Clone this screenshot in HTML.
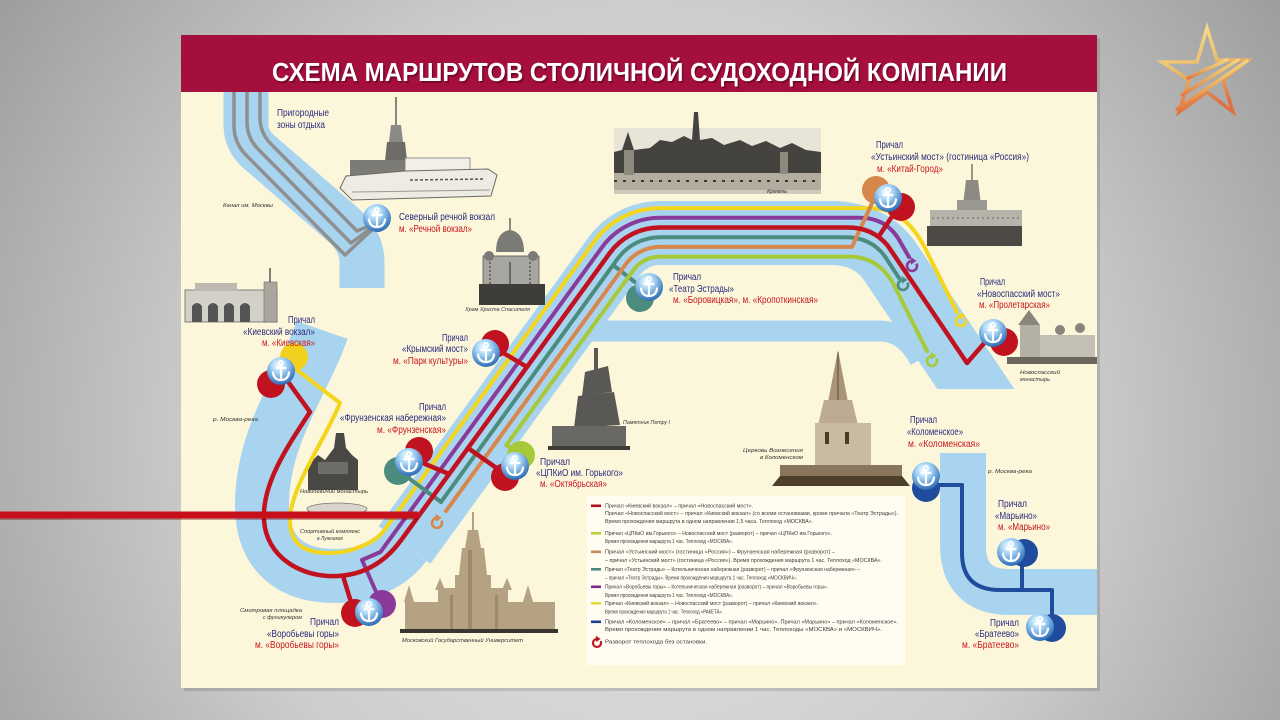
<!DOCTYPE html>
<html><head><meta charset="utf-8">
<style>
html,body{margin:0;padding:0;width:1280px;height:720px;overflow:hidden;background:#c8c8c8}
svg{display:block}
.n{font-family:"Liberation Sans",sans-serif;font-size:10px;fill:#2b2a7c}
.r{font-family:"Liberation Sans",sans-serif;font-size:10px;fill:#c8161d}
.i{font-family:"Liberation Sans",sans-serif;font-size:5.5px;font-style:italic;fill:#333}
.lg{font-family:"Liberation Sans",sans-serif;font-size:5.4px;fill:#3a3a3a}
</style></head><body>
<svg width="1280" height="720" viewBox="0 0 1280 720" xmlns="http://www.w3.org/2000/svg">
<defs>
<radialGradient id="bg" cx="640" cy="430" r="780" gradientUnits="userSpaceOnUse">
<stop offset="0" stop-color="#e6e6e6"/><stop offset="0.55" stop-color="#cdcdcd"/><stop offset="1" stop-color="#9c9c9c"/></radialGradient>
<radialGradient id="ag" cx="0.42" cy="0.3" r="0.75"><stop offset="0" stop-color="#ffffff"/><stop offset="0.35" stop-color="#a8d6f7"/><stop offset="1" stop-color="#1e5fae"/></radialGradient>
<linearGradient id="sg" x1="0" y1="0" x2="0.3" y2="1"><stop offset="0" stop-color="#f8e39a"/><stop offset="0.5" stop-color="#eebf68"/><stop offset="1" stop-color="#e0703e"/></linearGradient>
<clipPath id="cl"><rect x="0" y="0" width="1280" height="389"/></clipPath>
<g id="anc">
 <circle r="14" fill="url(#ag)"/>
 <g stroke="#fff" stroke-width="2.2" fill="none" stroke-linecap="round">
  <circle cy="-8" r="2.2" stroke-width="1.6"/>
  <line x1="0" y1="-5.5" x2="0" y2="8.5"/>
  <line x1="-4.5" y1="-3" x2="4.5" y2="-3"/>
  <path d="M-8 1.5 Q-7 9 0 9 Q7 9 8 1.5"/>
 </g>
</g>
<g id="turn"><path d="M4.4 -2.4 A5 5 0 1 1 0.5 -5" fill="none" stroke="currentColor" stroke-width="2.6"/><path d="M-1.5 -9 L4.5 -5.2 L-1 -1.2 Z" fill="currentColor"/></g>
</defs>

<rect width="1280" height="720" fill="url(#bg)"/>
<rect x="184" y="38" width="916" height="653" fill="#000" opacity="0.12"/>
<rect x="181" y="35" width="916" height="653" fill="#fcf7db"/>
<rect x="181" y="35" width="916" height="57" fill="#a40f3d"/>
<text x="641" y="83" text-anchor="middle" textLength="735" lengthAdjust="spacingAndGlyphs" font-family="Liberation Sans, sans-serif" font-weight="bold" font-size="26" fill="#4a0018" opacity="0.5">СХЕМА МАРШРУТОВ СТОЛИЧНОЙ СУДОХОДНОЙ КОМПАНИИ</text>
<text x="639.5" y="81" text-anchor="middle" textLength="735" lengthAdjust="spacingAndGlyphs" font-family="Liberation Sans, sans-serif" font-weight="bold" font-size="26" fill="#ffffff">СХЕМА МАРШРУТОВ СТОЛИЧНОЙ СУДОХОДНОЙ КОМПАНИИ</text>

<!-- rivers -->
<g fill="none" stroke="#a9d4ef" stroke-linecap="butt" stroke-linejoin="round">
 <path d="M246 92 L246 125 Q246 140 258 151 L340 222 Q362 240 362 262 L362 288" stroke-width="45"/>
 <path d="M322 330 C303 385 262 435 262 505 C262 555 292 576 335 576 C368 576 392 562 404.5 545" stroke-width="54"/>
 <path d="M404.5 545 L614.3 256.3 A56.5 56.5 0 0 1 660 233 L840 233" stroke-width="64"/>
 <path d="M590 331 L880 331 Q905 331 920 360" stroke-width="21"/>
 <path d="M963 453 L963 545 Q963 592 1010 592 L1097 592" stroke-width="46"/>
</g>
<g clip-path="url(#cl)"><path d="M830 233 Q871 233 891 263 L990 410" fill="none" stroke="#a9d4ef" stroke-width="64"/></g>

<!-- images -->
<g>
<line x1="396" y1="97" x2="396" y2="140" stroke="#555" stroke-width="1.4"/>
<polygon points="391,125 401,125 403,142 389,142" fill="#8a8a86"/>
<polygon points="387,142 405,142 408,170 384,170" fill="#6e6c68"/>
<rect x="350" y="160" width="55" height="22" fill="#7d7b76"/>
<rect x="405" y="158" width="65" height="14" fill="#f2efe8" stroke="#777" stroke-width="0.8"/>
<polygon points="340,188 346,176 405,171 488,169 497,175 491,196 352,200" fill="#eeebe3" stroke="#6a6a66" stroke-width="1"/>
<line x1="410" y1="180" x2="485" y2="179" stroke="#555" stroke-width="1.5" stroke-dasharray="3 2"/>
<line x1="352" y1="192" x2="490" y2="190" stroke="#999" stroke-width="1"/>
</g>
<g>
<rect x="614" y="128" width="207" height="66" fill="#e8e4d8"/>
<polygon points="614,194 614,152 622,150 628,132 634,150 650,148 660,140 672,142 684,136 692,140 694,112 698,112 700,140 712,138 724,145 740,140 752,146 766,141 780,148 792,143 806,150 821,152 821,194" fill="#454340"/>
<rect x="614" y="173" width="207" height="18" fill="#b3ad9f"/>
<line x1="614" y1="181" x2="821" y2="181" stroke="#3c3a36" stroke-width="2" stroke-dasharray="3 6"/>
<rect x="624" y="150" width="10" height="25" fill="#8e897d"/>
<rect x="780" y="152" width="8" height="22" fill="#8e897d"/>
<rect x="614" y="190" width="207" height="4" fill="#cfcabc"/>
</g>
<g>
<line x1="510" y1="218" x2="510" y2="232" stroke="#444" stroke-width="1.2"/>
<path d="M496 252 Q496 232 510 230 Q524 232 524 252 Z" fill="#7a7a76"/>
<rect x="483" y="256" width="56" height="32" fill="#a8a6a0" stroke="#555" stroke-width="0.8"/>
<circle cx="489" cy="256" r="5" fill="#7a7a76"/><circle cx="533" cy="256" r="5" fill="#7a7a76"/>
<line x1="490" y1="262" x2="490" y2="286" stroke="#555" stroke-width="1.5" stroke-dasharray="2 2"/>
<line x1="510" y1="262" x2="510" y2="286" stroke="#555" stroke-width="1.5"/>
<line x1="530" y1="262" x2="530" y2="286" stroke="#555" stroke-width="1.5" stroke-dasharray="2 2"/>
<rect x="479" y="284" width="66" height="21" fill="#3e3d3a"/>
</g>
<g>
<rect x="185" y="290" width="92" height="32" fill="#d3d0c8" stroke="#666" stroke-width="0.8"/>
<rect x="195" y="283" width="42" height="8" fill="#bdb9b0"/>
<path d="M192 322 L192 306 Q197 300 202 306 L202 322 Z M208 322 L208 306 Q213 300 218 306 L218 322 Z M224 322 L224 306 Q229 300 234 306 L234 322 Z M240 322 L240 306 Q245 300 250 306 L250 322 Z" fill="#555"/>
<rect x="264" y="282" width="13" height="40" fill="#aaa69e" stroke="#666" stroke-width="0.6"/>
<line x1="270" y1="268" x2="270" y2="282" stroke="#555" stroke-width="1.5"/>
</g>
<g>
<polygon points="308,490 308,465 318,455 325,460 334,448 336,433 344,433 346,448 352,455 358,460 358,490" fill="#4a4844"/>
<rect x="318" y="462" width="30" height="12" fill="#6f6d68"/>
<ellipse cx="337" cy="509" rx="30" ry="6" fill="#d8d5cc" stroke="#777" stroke-width="0.8"/>
</g>
<g fill="#b4a283">
<rect x="472" y="512" width="2" height="20"/>
<polygon points="468,530 478,530 481,548 465,548"/>
<polygon points="462,548 484,548 487,575 459,575"/>
<rect x="455" y="575" width="36" height="57"/>
<rect x="438" y="588" width="70" height="44"/>
<rect x="405" y="602" width="150" height="30"/>
<polygon points="404,602 409,585 414,602"/>
<polygon points="523,602 528,585 533,602"/>
<polygon points="435,590 440,578 445,590"/>
<polygon points="502,590 507,578 512,590"/>
</g>
<g fill="#9c8a6a"><rect x="468" y="550" width="4" height="80"/><rect x="450" y="595" width="3" height="35"/><rect x="495" y="595" width="3" height="35"/></g>
<rect x="400" y="629" width="158" height="4" fill="#3a3530"/>
<g fill="#5a5855">
<rect x="594" y="348" width="4" height="35"/>
<polygon points="585,372 608,366 612,392 582,396"/>
<polygon points="578,396 614,392 620,425 574,428"/>
<rect x="552" y="426" width="74" height="22" fill="#6a6864"/>
<rect x="548" y="446" width="82" height="4" fill="#3e3c39"/>
</g>
<g>
<polygon points="838,350 848,402 828,402" fill="#a99478"/>
<line x1="838" y1="352" x2="838" y2="400" stroke="#5a4a38" stroke-width="1"/>
<polygon points="824,400 852,400 858,425 818,425" fill="#bcab92"/>
<rect x="815" y="423" width="56" height="45" fill="#c9baa2"/>
<rect x="825" y="432" width="4" height="12" fill="#4a3a2a"/><rect x="845" y="432" width="4" height="12" fill="#4a3a2a"/>
<rect x="780" y="465" width="122" height="14" fill="#8a765c"/>
<polygon points="772,486 780,476 902,476 910,486" fill="#4e3e2c"/>
</g>
<g>
<line x1="972" y1="164" x2="972" y2="180" stroke="#555" stroke-width="1.2"/>
<polygon points="966,180 978,180 981,205 963,205" fill="#8c8983"/>
<rect x="957" y="200" width="30" height="30" fill="#9b9891"/>
<rect x="930" y="210" width="92" height="20" fill="#b6b3ab"/>
<line x1="932" y1="218" x2="1020" y2="218" stroke="#666" stroke-width="1" stroke-dasharray="2 3"/>
<rect x="927" y="226" width="95" height="20" fill="#4d4944"/>
</g>
<g>
<polygon points="1018,325 1029,310 1040,325" fill="#8a857c"/>
<rect x="1020" y="325" width="20" height="35" fill="#b5b0a5"/>
<rect x="1040" y="335" width="55" height="25" fill="#c4bfb3"/>
<circle cx="1060" cy="330" r="5" fill="#8a857c"/><circle cx="1080" cy="328" r="5" fill="#8a857c"/>
<rect x="1007" y="357" width="90" height="7" fill="#6b665d"/>
</g>

<!-- canal gray lines -->
<g fill="none" stroke="#8f8f8f" stroke-width="3.5" stroke-linejoin="round">
 <path d="M234 92 L234 126 Q234 144 248 157 L345 255 L374 228"/>
 <path d="M247 92 L247 122 Q247 139 260 151 L351 243 L374 226"/>
 <path d="M260 92 L260 118 Q260 134 273 146 L357 231 L374 224"/>
</g>

<!-- route lines -->
<g fill="none" stroke-width="4" stroke-linejoin="round" stroke-linecap="round">
 <path stroke="#f3d51c" d="M297 370 L340 403 C325 440 290 488 290 520 C290 545 305 553 330 553 C352 553 376 542 384.5 530 L594.1 241.6 A81.4 81.4 0 0 1 660 208.1 L870 208.1 Q905 208 925 248 L957 312"/>
 <path stroke="#8a3a98" d="M381 603 L362 560 L380.5 552 L602 247.3 A71.7 71.7 0 0 1 660 217.8 L860 217.8 Q885 218 898 238 L909 257"/>
 <path stroke="#4c8c7e" d="M399 471 L441 502 L617.7 258.7 A52.3 52.3 0 0 1 660 237.2 L845 237.2 Q872 237 886 258 L899 278"/>
 <path stroke="#4c8c7e" d="M613 265 L645 290"/>
 <path stroke="#d8874c" d="M446 511 L625.5 264.5 A42.6 42.6 0 0 1 660 246.9 L852 246.9 L873 201"/>
 <path stroke="#a6c93a" d="M520 455 L506.4 445 L633.4 270.2 A32.9 32.9 0 0 1 660 256.6 L850 256.6 Q880 257 895 287 L927 351"/>
 <path stroke="#c1121f" stroke-width="4.5" d="M281 372 L310 412 C285 450 262 485 264 520 C266 556 300 578 338 576 Q376.5 574 401.2 540 L609.8 253 A62 62 0 0 1 660 227.5 L848 227.5 Q873 227.5 888 246 L967 363 L993 333"/>
 <path stroke="#c1121f" stroke-width="4.5" d="M495 348 L527 367 M418 461 L449 474 M505 474 L468 448 M343 576 L354 612 M879 236 L899 206"/>
 <path stroke="#1f4c9c" d="M926 485 L962 485 L962 553 Q962 590 1000 590 L1052 590 L1052 627 M1022 590 L1022 553"/>
</g>
<use href="#turn" x="961" y="321" style="color:#f3d51c"/>
<use href="#turn" x="912" y="266" style="color:#8a3a98"/>
<use href="#turn" x="903" y="285" style="color:#4c8c7e"/>
<use href="#turn" x="932" y="361" style="color:#a6c93a"/>
<use href="#turn" x="437" y="523" style="color:#d8874c"/>

<!-- anchor backing circles -->
<circle cx="294" cy="357" r="14" fill="#f0d21e"/>
<circle cx="271" cy="384" r="14" fill="#c1121f"/>
<circle cx="495" cy="344" r="14" fill="#c1121f"/>
<circle cx="419" cy="451" r="14" fill="#c1121f"/>
<circle cx="398" cy="471" r="14" fill="#4c8c7e"/>
<circle cx="521" cy="455" r="14" fill="#a6c93a"/>
<circle cx="505" cy="477" r="14" fill="#c1121f"/>
<circle cx="640" cy="298" r="14" fill="#4c8c7e"/>
<circle cx="355" cy="613" r="14" fill="#c1121f"/>
<circle cx="382" cy="604" r="14" fill="#8a3a98"/>
<circle cx="876" cy="190" r="14" fill="#d8874c"/>
<circle cx="901" cy="207" r="14" fill="#c1121f"/>
<circle cx="1004" cy="342" r="14" fill="#c1121f"/>
<circle cx="926" cy="488" r="14" fill="#1f4c9c"/>
<circle cx="1024" cy="553" r="14" fill="#1f4c9c"/>
<circle cx="1052" cy="628" r="14" fill="#1f4c9c"/>

<use href="#anc" x="377" y="218"/>
<use href="#anc" x="281" y="371"/>
<use href="#anc" x="486" y="353"/>
<use href="#anc" x="409" y="462"/>
<use href="#anc" x="515" y="466"/>
<use href="#anc" x="649" y="287"/>
<use href="#anc" x="369" y="612"/>
<use href="#anc" x="888" y="198"/>
<use href="#anc" x="993" y="333"/>
<use href="#anc" x="926" y="476"/>
<use href="#anc" x="1011" y="552"/>
<use href="#anc" x="1040" y="627"/>

<!-- labels -->
<text class="n" x="277" y="116" textLength="52" lengthAdjust="spacingAndGlyphs" font-size="9.5">Пригородные</text>
<text class="n" x="277" y="128" textLength="48" lengthAdjust="spacingAndGlyphs" font-size="9.5">зоны отдыха</text>
<text class="i" x="223" y="207" textLength="50" lengthAdjust="spacingAndGlyphs">Канал им. Москвы</text>
<text class="n" x="399" y="220" textLength="96" lengthAdjust="spacingAndGlyphs">Северный речной вокзал</text>
<text class="r" x="399" y="232" textLength="73" lengthAdjust="spacingAndGlyphs">м. «Речной вокзал»</text>

<text class="n" x="288" y="323" textLength="27" lengthAdjust="spacingAndGlyphs">Причал</text>
<text class="n" x="243" y="335" textLength="72" lengthAdjust="spacingAndGlyphs">«Киевский вокзал»</text>
<text class="r" x="262" y="346" textLength="53" lengthAdjust="spacingAndGlyphs">м. «Киевская»</text>

<text class="i" x="465" y="311" textLength="65" lengthAdjust="spacingAndGlyphs">Храм Христа Спасителя</text>

<text class="n" x="442" y="341" textLength="26" lengthAdjust="spacingAndGlyphs">Причал</text>
<text class="n" x="402" y="352" textLength="66" lengthAdjust="spacingAndGlyphs">«Крымский мост»</text>
<text class="r" x="393" y="364" textLength="75" lengthAdjust="spacingAndGlyphs">м. «Парк культуры»</text>

<text class="i" x="213" y="421" textLength="45" lengthAdjust="spacingAndGlyphs">р. Москва-река</text>

<text class="n" x="419" y="410" textLength="27" lengthAdjust="spacingAndGlyphs">Причал</text>
<text class="n" x="340" y="421" textLength="106" lengthAdjust="spacingAndGlyphs">«Фрунзенская набережная»</text>
<text class="r" x="377" y="433" textLength="69" lengthAdjust="spacingAndGlyphs">м. «Фрунзенская»</text>

<text class="i" x="300" y="493" textLength="68" lengthAdjust="spacingAndGlyphs">Новодевичий монастырь</text>
<text class="i" x="300" y="533" textLength="60" lengthAdjust="spacingAndGlyphs">Спортивный комплекс</text>
<text class="i" x="317" y="540" textLength="26" lengthAdjust="spacingAndGlyphs">в Лужниках</text>
<text class="i" x="240" y="612" textLength="62" lengthAdjust="spacingAndGlyphs">Смотровая площадка</text>
<text class="i" x="263" y="619" textLength="39" lengthAdjust="spacingAndGlyphs">с фуникулером</text>

<text class="n" x="310" y="625" textLength="29" lengthAdjust="spacingAndGlyphs">Причал</text>
<text class="n" x="267" y="637" textLength="72" lengthAdjust="spacingAndGlyphs">«Воробьевы горы»</text>
<text class="r" x="255" y="648" textLength="84" lengthAdjust="spacingAndGlyphs">м. «Воробьевы горы»</text>

<text class="i" x="402" y="642" textLength="121" lengthAdjust="spacingAndGlyphs">Московский Государственный Университет</text>

<text class="n" x="540" y="465" textLength="30" lengthAdjust="spacingAndGlyphs">Причал</text>
<text class="n" x="536" y="476" textLength="87" lengthAdjust="spacingAndGlyphs">«ЦПКиО им. Горького»</text>
<text class="r" x="540" y="487" textLength="67" lengthAdjust="spacingAndGlyphs">м. «Октябрьская»</text>

<text class="i" x="623" y="424" textLength="47" lengthAdjust="spacingAndGlyphs">Памятник Петру I</text>
<text class="i" x="743" y="452" textLength="60" lengthAdjust="spacingAndGlyphs">Церковь Вознесения</text>
<text class="i" x="760" y="459" textLength="43" lengthAdjust="spacingAndGlyphs">в Коломенском</text>

<text class="n" x="673" y="280" textLength="28" lengthAdjust="spacingAndGlyphs">Причал</text>
<text class="n" x="669" y="292" textLength="65" lengthAdjust="spacingAndGlyphs">«Театр Эстрады»</text>
<text class="r" x="673" y="303" textLength="145" lengthAdjust="spacingAndGlyphs">м. «Боровицкая», м. «Кропоткинская»</text>

<text class="i" x="767" y="193" textLength="20" lengthAdjust="spacingAndGlyphs" font-size="5">Кремль</text>

<text class="n" x="876" y="148" textLength="27" lengthAdjust="spacingAndGlyphs">Причал</text>
<text class="n" x="871" y="160" textLength="158" lengthAdjust="spacingAndGlyphs">«Устьинский мост» (гостиница «Россия»)</text>
<text class="r" x="877" y="172" textLength="66" lengthAdjust="spacingAndGlyphs">м. «Китай-Город»</text>

<text class="n" x="980" y="285" textLength="25" lengthAdjust="spacingAndGlyphs">Причал</text>
<text class="n" x="977" y="297" textLength="83" lengthAdjust="spacingAndGlyphs">«Новоспасский мост»</text>
<text class="r" x="979" y="308" textLength="71" lengthAdjust="spacingAndGlyphs">м. «Пролетарская»</text>
<text class="i" x="1020" y="374" textLength="40" lengthAdjust="spacingAndGlyphs" font-size="5">Новоспасский</text>
<text class="i" x="1020" y="381" textLength="30" lengthAdjust="spacingAndGlyphs" font-size="5">монастырь</text>

<text class="n" x="910" y="423" textLength="27" lengthAdjust="spacingAndGlyphs">Причал</text>
<text class="n" x="907" y="435" textLength="56" lengthAdjust="spacingAndGlyphs">«Коломенское»</text>
<text class="r" x="908" y="447" textLength="72" lengthAdjust="spacingAndGlyphs">м. «Коломенская»</text>
<text class="i" x="988" y="473" textLength="44" lengthAdjust="spacingAndGlyphs">р. Москва-река</text>

<text class="n" x="998" y="507" textLength="29" lengthAdjust="spacingAndGlyphs">Причал</text>
<text class="n" x="995" y="519" textLength="42" lengthAdjust="spacingAndGlyphs">«Марьино»</text>
<text class="r" x="998" y="530" textLength="52" lengthAdjust="spacingAndGlyphs">м. «Марьино»</text>

<text class="n" x="990" y="626" textLength="29" lengthAdjust="spacingAndGlyphs">Причал</text>
<text class="n" x="975" y="637" textLength="44" lengthAdjust="spacingAndGlyphs">«Братеево»</text>
<text class="r" x="962" y="648" textLength="57" lengthAdjust="spacingAndGlyphs">м. «Братеево»</text>

<!-- legend -->
<rect x="587" y="496" width="318" height="169" fill="#fffdf2"/>
<rect x="591" y="504.5" width="10" height="2.6" fill="#b0101e"/>
<rect x="591" y="532" width="10" height="2.6" fill="#bcd43a"/>
<rect x="591" y="550.5" width="10" height="2.6" fill="#c98a58"/>
<rect x="591" y="568" width="10" height="2.6" fill="#4d8a7c"/>
<rect x="591" y="585.5" width="10" height="2.6" fill="#7b2a86"/>
<rect x="591" y="602" width="10" height="2.6" fill="#e6d93a"/>
<rect x="591" y="620.5" width="10" height="2.6" fill="#1d3f8e"/>
<use href="#turn" x="597" y="643" style="color:#c1121f" transform="translate(597 643) scale(0.8) translate(-597 -643)"/>
<text class="lg" x="605" y="507.5" textLength="148" lengthAdjust="spacingAndGlyphs">Причал «Киевский вокзал» – причал «Новоспасский мост».</text>
<text class="lg" x="605" y="515" textLength="293" lengthAdjust="spacingAndGlyphs">Причал «Новоспасский мост» – причал «Киевский вокзал» (со всеми остановками, кроме причала «Театр Эстрады»).</text>
<text class="lg" x="605" y="523" textLength="208" lengthAdjust="spacingAndGlyphs">Время прохождения маршрута в одном направлении  1,5 часа. Теплоход «МОСКВА».</text>
<text class="lg" x="605" y="535" textLength="227" lengthAdjust="spacingAndGlyphs">Причал «ЦПКиО им.Горького» – Новоспасский мост (разворот) – причал «ЦПКиО им.Горького».</text>
<text class="lg" x="605" y="543" textLength="128" lengthAdjust="spacingAndGlyphs">Время прохождения маршрута  1 час. Теплоход «МОСКВА».</text>
<text class="lg" x="605" y="553.5" textLength="230" lengthAdjust="spacingAndGlyphs">Причал «Устьинский мост» (гостиница «Россия») – Фрунзенская набережная (разворот) –</text>
<text class="lg" x="605" y="562" textLength="277" lengthAdjust="spacingAndGlyphs">– причал «Устьинский мост» (гостиница «Россия»). Время прохождения маршрута  1 час. Теплоход «МОСКВА».</text>
<text class="lg" x="605" y="571" textLength="255" lengthAdjust="spacingAndGlyphs">Причал «Театр Эстрады» – Котельническая набережная (разворот) – причал «Фрунзенская набережная» –</text>
<text class="lg" x="605" y="579.5" textLength="192" lengthAdjust="spacingAndGlyphs">– причал «Театр Эстрады». Время прохождения маршрута  1 час. Теплоход «МОСКВИЧ».</text>
<text class="lg" x="605" y="588.5" textLength="223" lengthAdjust="spacingAndGlyphs">Причал «Воробьевы горы» – Котельническая набережная (разворот) – причал «Воробьевы горы».</text>
<text class="lg" x="605" y="597" textLength="128" lengthAdjust="spacingAndGlyphs">Время прохождения маршрута  1 час. Теплоход «МОСКВА».</text>
<text class="lg" x="605" y="605" textLength="213" lengthAdjust="spacingAndGlyphs">Причал «Киевский вокзал» – Новоспасский мост (разворот) – причал «Киевский вокзал».</text>
<text class="lg" x="605" y="613.5" textLength="118" lengthAdjust="spacingAndGlyphs">Время прохождения маршрута  1 час. Теплоход «РАКЕТА».</text>
<text class="lg" x="605" y="623.5" textLength="293" lengthAdjust="spacingAndGlyphs">Причал «Коломенское» – причал «Братеево» – причал «Марьино». Причал «Марьино» – причал «Коломенское».</text>
<text class="lg" x="605" y="631" textLength="277" lengthAdjust="spacingAndGlyphs">Время прохождения маршрута в одном направлении  1 час. Теплоходы «МОСКВА» и «МОСКВИЧ».</text>
<text class="lg" x="605" y="643.5" textLength="102" lengthAdjust="spacingAndGlyphs">Разворот теплохода без остановки.</text>

<!-- pointer line -->
<line x1="0" y1="517" x2="418" y2="517" stroke="#6a0008" stroke-width="6" opacity="0.35"/>
<line x1="0" y1="515" x2="418" y2="515" stroke="#c8101c" stroke-width="7"/>

<!-- star logo -->
<polygon points="1207,28 1217,60 1248,60 1223,80 1233,112 1207,92 1179,112 1189,80 1162,62 1197,62" fill="none" stroke="url(#sg)" stroke-width="3.5" stroke-linejoin="miter"/>
<g stroke="url(#sg)" stroke-width="3.5" stroke-linecap="round">
<line x1="1188" y1="78" x2="1227" y2="60"/>
<line x1="1182" y1="95" x2="1238" y2="60"/>
<line x1="1177" y1="109" x2="1247" y2="61"/>
</g>
</svg>
</body></html>
